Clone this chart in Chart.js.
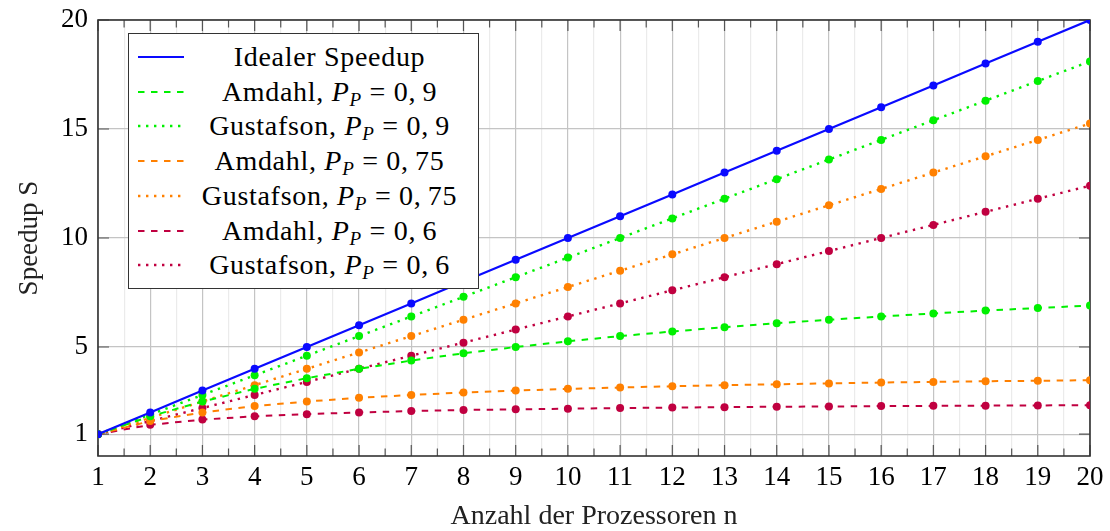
<!DOCTYPE html>
<html>
<head>
<meta charset="utf-8">
<script src="https://cdn.jsdelivr.net/npm/chart.js@4.4.1/dist/chart.umd.min.js"></script>
<style>
  html, body { margin: 0; padding: 0; background: #fff; }
  #wrap { position: relative; width: 1110px; height: 531px; }
  #legend {
    position: absolute; background: #fff; border: 1.5px solid #333; box-sizing: border-box;
    font-family: 'Liberation Serif', serif; font-size: 28px; color: #000; letter-spacing: 0.7px;
  }
  .row { position: absolute; left: 0; right: 0; height: 34.7px; }
  .row svg { position: absolute; left: 9px; top: 12px; }
  .row span { position: absolute; left: 56px; right: 4px; text-align: center; line-height: 34.7px; white-space: nowrap; }
  .row sub { font-size: 68%; vertical-align: -0.28em; line-height: 0; }
</style>
</head>
<body>
<div id="wrap">
  <canvas id="chart" width="1110" height="531"></canvas>
  <div id="legend"></div>
</div>
<script>
// Speedup nach Amdahl und Gustafson
const processors = [1,2,3,4,5,6,7,8,9,10,11,12,13,14,15,16,17,18,19,20];

const ideal       = [1,2,3,4,5,6,7,8,9,10,11,12,13,14,15,16,17,18,19,20];
const amdahl90    = [1,1.82,2.5,3.08,3.57,4,4.38,4.71,5,5.26,5.5,5.71,5.91,6.09,6.25,6.4,6.54,6.67,6.79,6.9];
const gustafson90 = [1,1.9,2.8,3.7,4.6,5.5,6.4,7.3,8.2,9.1,10,10.9,11.8,12.7,13.6,14.5,15.4,16.3,17.2,18.1];
const amdahl75    = [1,1.6,2,2.29,2.5,2.67,2.8,2.91,3,3.08,3.14,3.2,3.25,3.29,3.33,3.37,3.4,3.43,3.45,3.48];
const gustafson75 = [1,1.75,2.5,3.25,4,4.75,5.5,6.25,7,7.75,8.5,9.25,10,10.75,11.5,12.25,13,13.75,14.5,15.25];
const amdahl60    = [1,1.43,1.67,1.82,1.92,2,2.06,2.11,2.14,2.17,2.2,2.22,2.24,2.26,2.27,2.29,2.3,2.31,2.32,2.33];
const gustafson60 = [1,1.6,2.2,2.8,3.4,4,4.6,5.2,5.8,6.4,7,7.6,8.2,8.8,9.4,10,10.6,11.2,11.8,12.4];

const yTicks = [1,5,10,15,20];

const seriesNames = ['Idealer Speedup','Amdahl','Gustafson','Amdahl','Gustafson','Amdahl','Gustafson'];
const seriesP     = [null,'0,9','0,9','0,75','0,75','0,6','0,6'];

const FONT = "'Liberation Serif', serif";
const DASHED = [6.5, 6.5];
const DOTTED = [2.4, 5.6];

function series(values, idx, color, dash, width) {
  return {
    label: seriesP[idx] ? seriesNames[idx] + ', P_P = ' + seriesP[idx] : seriesNames[idx],
    data: processors.map((n, i) => ({ x: n, y: values[i] })),
    borderColor: color,
    backgroundColor: color,
    pointBackgroundColor: color,
    pointBorderWidth: 0,
    pointRadius: 4,
    borderWidth: width,
    borderDash: dash,
    borderCapStyle: 'butt',
    tension: 0
  };
}

const datasets = [
  series(ideal, 0, '#0a0aff', [], 2.2),
  series(amdahl90, 1, '#00f000', DASHED, 2),
  series(gustafson90, 2, '#00f000', DOTTED, 2.4),
  series(amdahl75, 3, '#ff8000', DASHED, 2),
  series(gustafson75, 4, '#ff8000', DOTTED, 2.4),
  series(amdahl60, 5, '#c00040', DASHED, 2),
  series(gustafson60, 6, '#c00040', DOTTED, 2.4)
];

// Rahmen + Ticks nach innen (wie pgfplots)
const framePlugin = {
  id: 'frame',
  beforeDatasetsDraw(chart) {
    const { ctx, chartArea: a, scales } = chart;
    ctx.save();
    ctx.strokeStyle = '#555';
    ctx.lineWidth = 1.2;
    ctx.beginPath();
    scales.x.ticks.forEach(t => {
      const px = scales.x.getPixelForValue(t.value);
      const len = Number.isInteger(t.value) ? 11 : 7.5;
      ctx.moveTo(px, a.bottom); ctx.lineTo(px, a.bottom - len);
      ctx.moveTo(px, a.top); ctx.lineTo(px, a.top + len);
    });
    scales.y.ticks.forEach(t => {
      const py = scales.y.getPixelForValue(t.value);
      ctx.moveTo(a.left, py); ctx.lineTo(a.left + 11, py);
      ctx.moveTo(a.right, py); ctx.lineTo(a.right - 11, py);
    });
    ctx.stroke();
    ctx.strokeStyle = '#333';
    ctx.lineWidth = 1.6;
    ctx.strokeRect(a.left, a.top, a.right - a.left, a.bottom - a.top);
    ctx.restore();
  }
};

const chart = new Chart(document.getElementById('chart'), {
  type: 'line',
  data: { datasets },
  options: {
    responsive: false,
    devicePixelRatio: 1,
    animation: false,
    layout: { padding: { left: 0, right: 20, top: 20, bottom: 0 } },
    plugins: { legend: { display: false }, tooltip: { enabled: false } },
    scales: {
      x: {
        type: 'linear',
        min: 1, max: 20,
        border: { display: false },
        grid: {
          drawTicks: false,
          lineWidth: 1.2,
          color: c => (c.tick && Number.isInteger(c.tick.value)) ? '#c4c4c4' : '#ebebeb'
        },
        ticks: {
          stepSize: 0.5, autoSkip: false, maxRotation: 0, padding: 6,
          color: '#000', font: { family: FONT, size: 27 },
          callback: v => Number.isInteger(v) ? String(v) : ''
        },
        title: {
          display: true, text: 'Anzahl der Prozessoren n', color: '#222',
          font: { family: FONT, size: 28, lineHeight: 1 }, padding: { top: 0, bottom: 0 }
        },
        afterFit: s => { s.height = 75; s.paddingLeft = 0; s.paddingRight = 0; }
      },
      y: {
        min: 0, max: 20,
        border: { display: false },
        grid: { drawTicks: false, lineWidth: 1.2, color: '#c4c4c4' },
        afterBuildTicks: s => { s.ticks = yTicks.map(v => ({ value: v })); },
        ticks: { padding: 10, color: '#000', font: { family: FONT, size: 27 } },
        title: {
          display: true, text: 'Speedup S', color: '#222',
          font: { family: FONT, size: 27 }, padding: { top: 14, bottom: 0 }
        },
        afterFit: s => { s.width = 98; s.paddingTop = 0; s.paddingBottom = 0; }
      }
    }
  },
  plugins: [framePlugin]
});

// Legende als HTML (Index mit tiefgestelltem P)
function buildLegend() {
  const a = chart.chartArea;
  const box = document.getElementById('legend');
  box.style.left = (a.left + 30) + 'px';
  box.style.top = (a.top + 13) + 'px';
  box.style.width = '351px';
  box.style.height = '256px';
  box.innerHTML = '';
  chart.data.datasets.forEach((ds, i) => {
    const row = document.createElement('div');
    row.className = 'row';
    row.style.top = (6 + i * 34.7) + 'px';
    const dash = ds.borderDash.length ? ds.borderDash.join(' ') : 'none';
    row.innerHTML =
      '<svg width="46" height="10"><line x1="0" y1="5" x2="46" y2="5" stroke="' + ds.borderColor +
      '" stroke-width="' + ds.borderWidth + '" stroke-dasharray="' + dash + '"/></svg>' +
      '<span>' + seriesNames[i] +
      (seriesP[i] ? ', <i>P</i><sub><i>P</i></sub> = ' + seriesP[i].replace(',', ',&#8201;') : '') +
      '</span>';
    box.appendChild(row);
  });
}
buildLegend();
</script>
</body>
</html>
